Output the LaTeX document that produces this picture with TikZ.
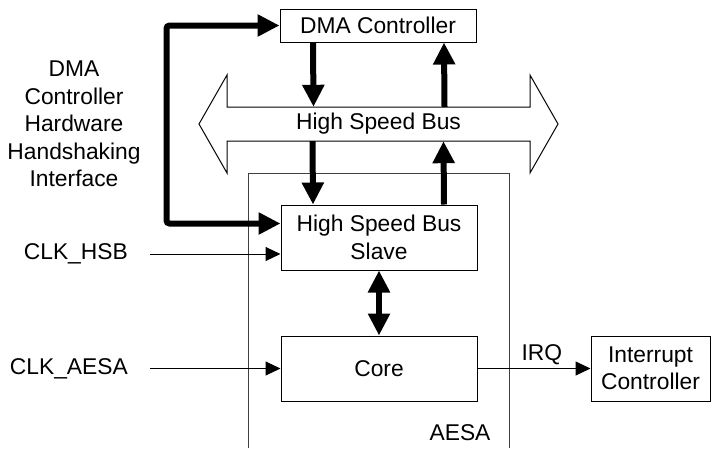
\documentclass[tikz,border=0pt]{standalone}
\usepackage{fontspec}
\setmainfont{Liberation Sans}
\usetikzlibrary{arrows.meta}
\begin{document}
\begin{tikzpicture}[
	x=1pt, y=-1pt,
	every node/.style={ font=\fontsize{22.8pt}{27.5pt}\selectfont },
	blk/.style={ draw, line width=1pt, inner sep=0pt, align=center, minimum width=196pt, minimum height=65pt },
	fat/.style={ line width=6pt, -{Triangle[length=22pt,width=21pt]} },
	fatboth/.style={ line width=6pt, {Triangle[length=22pt,width=21pt]}-{Triangle[length=22pt,width=21pt]} },
	thinarr/.style={ line width=1pt, -{Triangle[length=15pt,width=14pt]} }
]
\useasboundingbox (0,0) rectangle (712,448);

% the AESA module
\draw[line width=1pt, black!75] (248,448) |- (509,173) -- (509,448);
\node at (460,433) (aesa) {AESA};

\node at (378,25.5) (dma) [blk, minimum height=33pt] {DMA Controller};
\node at (378.5,124) (bus) [inner sep=0pt, minimum width=303pt, minimum height=34pt] {High Speed Bus};
\draw[line width=1pt] (199,124) -- (227,75) -- (227,107) -- (530,107)
	-- (530,75) -- (558,124) -- (530,173) -- (530,141)
	-- (227,141) -- (227,173) -- cycle;
\node at (379,237.5) (slave) [blk] {High Speed Bus\\Slave};
\node at (379,368.5) (core) [blk] {Core};
\node at (650.5,368.5) (intr) [blk, minimum width=119pt] {Interrupt\\Controller};

\draw[fat] ([xshift=-65pt]dma.south) -- ([xshift=-65pt]bus.north);
\draw[fat] ([xshift=66pt]bus.north) -- ([xshift=66pt]dma.south);
\draw[fat] ([xshift=-66pt]bus.south) -- ([xshift=-66pt]slave.north);
\draw[fat] ([xshift=65pt]slave.north) -- ([xshift=65pt]bus.south);
\draw[fatboth] (slave.south) -- (core.north);
\draw[fatboth, rounded corners=3pt] ([yshift=14pt]slave.west) -- ++(-114,0) |- (dma.west);

\node at (74,124) (hwhs) [align=center] {DMA\\Controller\\Hardware\\Handshaking\\Interface};
\node at (150,254) (clkhsb) [anchor=east, inner xsep=22pt] {CLK\_HSB};
\node at (150,368.5) (clkaesa) [anchor=east, inner xsep=22pt] {CLK\_AESA};
\draw[thinarr] (clkhsb.east) -- (clkhsb.east -| slave.west);
\draw[thinarr] (clkaesa.east) -- (core.west);
\draw[thinarr] (core) -- node[above, pos=0.57] {IRQ} (intr);

\end{tikzpicture}
\end{document}
